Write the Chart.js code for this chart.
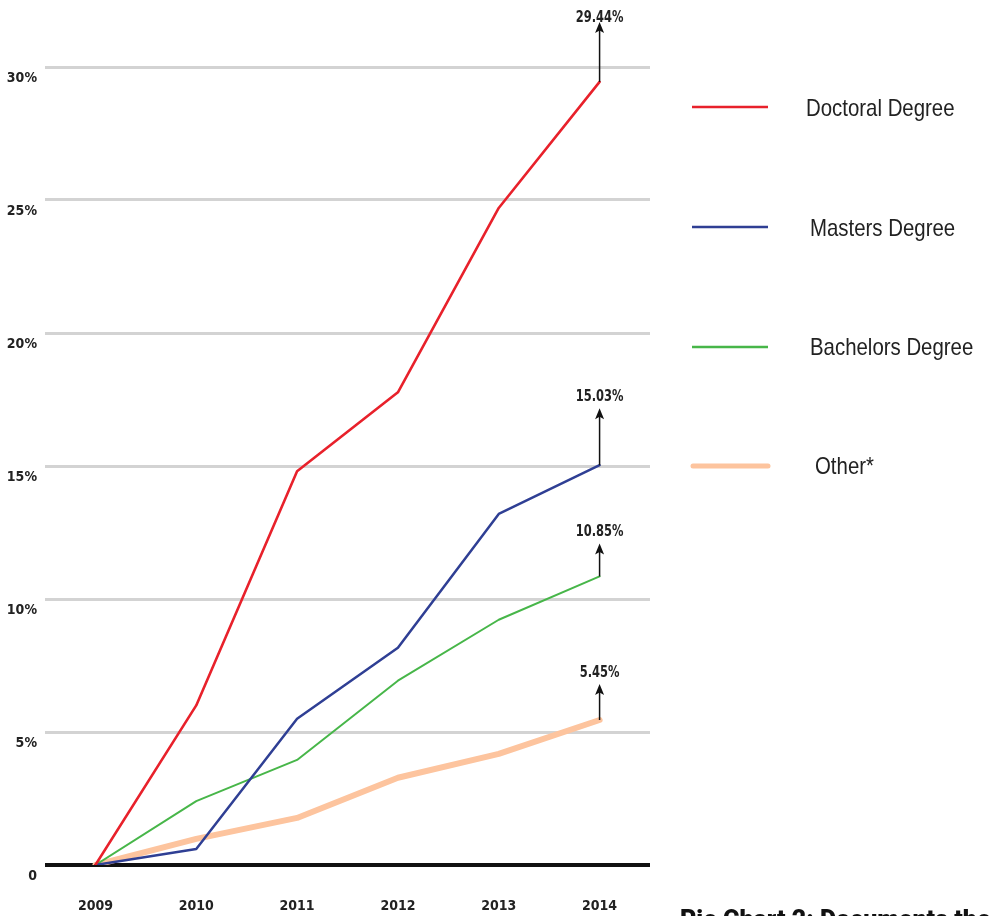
<!DOCTYPE html>
<html>
<head>
<meta charset="utf-8">
<script src="https://cdn.jsdelivr.net/npm/chart.js@4.4.1/dist/chart.umd.min.js"></script>
<style>
  html, body { margin: 0; padding: 0; background: #fff; overflow: hidden; }
  #wrap { position: relative; width: 990px; height: 916px; overflow: hidden; }
  #c { position: absolute; left: 0; top: 0; }
  #caption { position: absolute; left: 680px; top: 907px; font-family: "Roboto", "Lato", sans-serif; font-weight: 900; font-size: 25px; line-height: 25px; color: #111; white-space: nowrap; }
</style>
</head>
<body>
<div id="wrap">
  <canvas id="c" width="990" height="916"></canvas>
  <div id="caption">Pie Chart 2: Documents the</div>
</div>
<script>
const years = ["2009", "2010", "2011", "2012", "2013", "2014"];
const doctoral = [0, 6.0, 14.8, 17.77, 24.7, 29.44];
const masters = [0, 0.6, 5.5, 8.17, 13.2, 15.03];
const bachelors = [0, 2.4, 3.95, 6.93, 9.22, 10.85];
const other = [0, 0.98, 1.77, 3.28, 4.18, 5.45];
const seriesNames = ["Doctoral Degree", "Masters Degree", "Bachelors Degree", "Other*"];
const endLabels = ["29.44%", "15.03%", "10.85%", "5.45%"];
const yTicks = [0, 5, 10, 15, 20, 25, 30];

const colors = ["#e8212b", "#2f3f94", "#47b649", "#fdc49e"];
const widths = [2.6, 2.5, 2, 6];
const arrowLen = [60, 57, 33, 36];
const labelGap = [0, 7, 7, 7];
const legendY = [107, 227, 347, 466];
const legendTextX = [806, 810, 810, 815];
const legendTextY = [109, 229, 348, 467];

function condensedText(ctx, text, x, y, sx, align) {
  ctx.save();
  ctx.translate(x, y);
  ctx.scale(sx, 1);
  ctx.textAlign = align;
  ctx.fillText(text, 0, 0);
  ctx.restore();
}

const annotPlugin = {
  id: 'annot',
  afterDatasetsDraw(chart) {
    const ctx = chart.ctx;
    ctx.save();
    chart.data.datasets.forEach((ds, i) => {
      const meta = chart.getDatasetMeta(i);
      const pt = meta.data[meta.data.length - 1];
      const x = pt.x, y = pt.y;
      const tip = y - arrowLen[i];
      ctx.strokeStyle = '#111';
      ctx.fillStyle = '#111';
      ctx.lineWidth = 1.5;
      ctx.beginPath();
      ctx.moveTo(x, y);
      ctx.lineTo(x, tip + 6);
      ctx.stroke();
      ctx.beginPath();
      ctx.moveTo(x, tip);
      ctx.lineTo(x - 4.5, tip + 11);
      ctx.lineTo(x, tip + 8.5);
      ctx.lineTo(x + 4.5, tip + 11);
      ctx.closePath();
      ctx.fill();
      ctx.font = 'bold 15px "DejaVu Sans Condensed", "DejaVu Sans", sans-serif';
      ctx.textBaseline = 'alphabetic';
      ctx.fillStyle = '#222';
      condensedText(ctx, endLabels[i], x, tip - labelGap[i], 0.85, 'center');
    });
    // legend
    chart.data.datasets.forEach((ds, i) => {
      ctx.strokeStyle = colors[i];
      ctx.lineWidth = i === 3 ? 5 : 2.5;
      ctx.lineCap = i === 3 ? 'round' : 'butt';
      ctx.beginPath();
      ctx.moveTo(i === 3 ? 693 : 692, legendY[i]);
      ctx.lineTo(768, legendY[i]);
      ctx.stroke();
      ctx.font = '24px "Liberation Sans", Arial, sans-serif';
      ctx.fillStyle = '#222';
      ctx.textBaseline = 'middle';
      condensedText(ctx, seriesNames[i], legendTextX[i], legendTextY[i], 0.85, 'left');
    });
    ctx.restore();
  }
};

const datasets = [doctoral, masters, bachelors, other].map((arr, i) => ({
  label: seriesNames[i],
  data: arr,
  borderColor: colors[i],
  backgroundColor: colors[i],
  borderWidth: widths[i],
  pointRadius: 0,
  pointHoverRadius: 0,
  tension: 0,
  borderCapStyle: 'round',
  borderJoinStyle: 'round',
  fill: false
}));

new Chart(document.getElementById('c'), {
  type: 'line',
  data: { labels: years, datasets: datasets },
  options: {
    responsive: false,
    animation: false,
    devicePixelRatio: 1,
    layout: { padding: { top: 67, right: 340, left: 0, bottom: 0 } },
    plugins: { legend: { display: false }, tooltip: { enabled: false } },
    scales: {
      x: {
        type: 'category',
        offset: true,
        grid: { display: false, drawTicks: false },
        border: { display: false },
        ticks: {
          padding: 33,
          color: '#222',
          font: { family: '"DejaVu Sans Condensed", "Liberation Sans", sans-serif', size: 14, weight: 'bold' }
        },
        afterFit(s) { s.height = 51; }
      },
      y: {
        min: 0,
        max: 30,
        afterBuildTicks(s) { s.ticks = yTicks.map(v => ({ value: v })); },
        grid: {
          drawTicks: false,
          color: c => (c.tick && c.tick.value === 0) ? '#111' : '#d3d3d3',
          lineWidth: c => (c.tick && c.tick.value === 0) ? 4 : 3
        },
        border: { display: false },
        ticks: {
          padding: 8,
          labelOffset: 11,
          color: '#222',
          font: { family: '"DejaVu Sans Condensed", "Liberation Sans", sans-serif', size: 14, weight: 'bold' },
          callback: v => v === 0 ? '0' : v + '%'
        },
        afterFit(s) { s.width = 45; }
      }
    }
  },
  plugins: [annotPlugin]
});
</script>
</body>
</html>
